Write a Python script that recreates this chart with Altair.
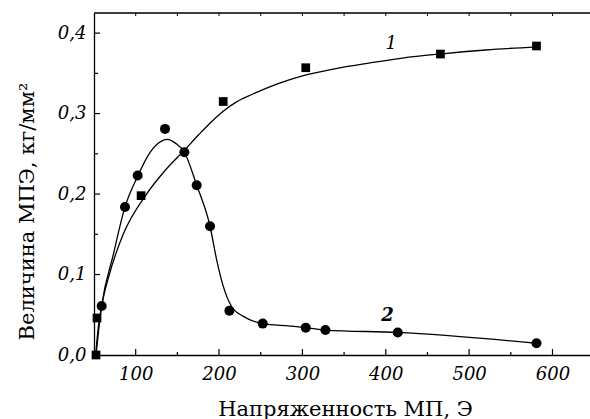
import altair as alt
import pandas as pd

# Series 1 (squares) measured points
sq_x = [52.4, 53.6, 106.5, 205, 304, 465.6, 580.8]
sq_y = [0.0, 0.046, 0.198, 0.315, 0.357, 0.374, 0.384]

# Series 2 (circles) measured points
ci_x = [59.2, 87.2, 102.4, 135.2, 158.4, 173.2, 189.2, 212.4, 252.4, 304, 327.6, 414.4, 580.8]
ci_y = [0.061, 0.184, 0.223, 0.281, 0.252, 0.211, 0.160, 0.055, 0.039, 0.034, 0.031, 0.028, 0.0146]

# Fitted curve 1
fit1_x = [52, 55.2, 59.2, 68.4, 85, 113, 135, 158, 175, 190, 205, 220, 240, 270, 300, 340, 381, 420, 465, 520, 581]
fit1_y = [0.0, 0.035, 0.061, 0.1, 0.15, 0.2, 0.229, 0.254, 0.273, 0.289, 0.303, 0.314, 0.324, 0.337, 0.347,
          0.356, 0.363, 0.369, 0.374, 0.379, 0.383]

# Fitted curve 2
fit2_x = [52.4, 55.5, 59.2, 73, 87.2, 102.4, 115, 127, 138, 148, 158.4, 173.2, 189.2, 197.2,
          205.2, 215.2, 229.2, 252.4, 285, 304, 327.6, 414.4, 580.8]
fit2_y = [0.0, 0.03, 0.061, 0.124, 0.184, 0.222, 0.248, 0.263, 0.268, 0.263, 0.252, 0.211, 0.160,
          0.118, 0.085, 0.060, 0.048, 0.039, 0.036, 0.034, 0.031, 0.028, 0.0146]

# Axis ticks / labels
x_major = [100, 200, 300, 400, 500, 600]
x_minor = [150, 250, 350, 450, 550]
x_top = [100, 150, 200, 250, 300, 350, 400, 450, 500, 550, 600]
y_major = [0.0, 0.1, 0.2, 0.3, 0.4]
y_minor = [0.05, 0.15, 0.25, 0.35]

curve_labels = ["1", "2"]
curve_label_x = [406.4, 402]
curve_label_y = [0.387, 0.0485]

W, H = 496, 342
XD = [50, 645]
YD = [0, 0.425]
FONT = "DejaVu Serif"

xs = alt.Scale(domain=XD, nice=False, zero=False)
ys = alt.Scale(domain=YD, nice=False, zero=False)

df_sq = pd.DataFrame({"x": sq_x, "y": sq_y})
df_ci = pd.DataFrame({"x": ci_x, "y": ci_y})
df_f1 = pd.DataFrame({"x": fit1_x, "y": fit1_y, "order": range(len(fit1_x))})
df_f2 = pd.DataFrame({"x": fit2_x, "y": fit2_y, "order": range(len(fit2_x))})

x_axis = alt.Axis(
    values=x_major, format="d", ticks=False, grid=False,
    domainColor="black", domainWidth=1.3,
    labelFont=FONT, labelFontSize=18, labelFontStyle="italic", labelColor="black",
    labelPadding=10, labelFlush=False,
    title="Напряженность МП, Э", titleFont=FONT, titleFontSize=21, titleFontWeight="normal",
    titleColor="black", titleX=251, titleY=60, titleBaseline="alphabetic", titleAlign="center",
)
y_axis = alt.Axis(
    values=y_major, ticks=False, grid=False,
    labelExpr="replace(format(datum.value, '.1f'), '.', ',')",
    domainColor="black", domainWidth=1.3,
    labelFont=FONT, labelFontSize=18, labelFontStyle="italic", labelColor="black",
    labelPadding=8, labelFlush=False,
    title="Величина МПЭ, кг/мм²", titleFont=FONT, titleFontSize=21, titleFontWeight="normal",
    titleColor="black", titleX=-61, titleY=198, titleBaseline="alphabetic", titleAlign="center",
    titleAngle=-90,
)

line1 = alt.Chart(df_f1).mark_line(color="black", strokeWidth=1.3, interpolate="monotone").encode(
    x=alt.X("x:Q", scale=xs, axis=x_axis),
    y=alt.Y("y:Q", scale=ys, axis=y_axis),
    order="order:O",
)
line2 = alt.Chart(df_f2).mark_line(color="black", strokeWidth=1.3, interpolate="monotone").encode(
    x=alt.X("x:Q", scale=xs), y=alt.Y("y:Q", scale=ys), order="order:O"
)
pts_sq = alt.Chart(df_sq).mark_point(shape="square", filled=True, color="black", size=76, opacity=1).encode(
    x=alt.X("x:Q", scale=xs), y=alt.Y("y:Q", scale=ys)
)
pts_ci = alt.Chart(df_ci).mark_point(shape="circle", filled=True, color="black", size=100, opacity=1).encode(
    x=alt.X("x:Q", scale=xs), y=alt.Y("y:Q", scale=ys)
)

df_lab = pd.DataFrame({"t": curve_labels, "x": curve_label_x, "y": curve_label_y})
lab1 = alt.Chart(df_lab.iloc[[0]]).mark_text(font=FONT, fontSize=18, fontStyle="italic",
                                              color="black", baseline="middle", align="center").encode(
    x=alt.X("x:Q", scale=xs), y=alt.Y("y:Q", scale=ys), text="t:N")
lab2 = alt.Chart(df_lab.iloc[[1]]).mark_text(font=FONT, fontSize=18, fontStyle="italic", fontWeight="bold",
                                              color="black", baseline="middle", align="center").encode(
    x=alt.X("x:Q", scale=xs), y=alt.Y("y:Q", scale=ys), text="t:N")

# inside ticks
bx_major = alt.Chart(pd.DataFrame({"x": x_major})).mark_rule(color="black", strokeWidth=1.2).encode(
    x=alt.X("x:Q", scale=xs), y=alt.value(H), y2=alt.value(H - 6))
bx_minor = alt.Chart(pd.DataFrame({"x": x_minor})).mark_rule(color="black", strokeWidth=1.2).encode(
    x=alt.X("x:Q", scale=xs), y=alt.value(H), y2=alt.value(H - 3))
tx = alt.Chart(pd.DataFrame({"x": x_top})).mark_rule(color="black", strokeWidth=1.0).encode(
    x=alt.X("x:Q", scale=xs), y=alt.value(0), y2=alt.value(3))
ly_major = alt.Chart(pd.DataFrame({"y": y_major})).mark_rule(color="black", strokeWidth=1.2).encode(
    y=alt.Y("y:Q", scale=ys), x=alt.value(0), x2=alt.value(6))
ly_minor = alt.Chart(pd.DataFrame({"y": y_minor})).mark_rule(color="black", strokeWidth=1.2).encode(
    y=alt.Y("y:Q", scale=ys), x=alt.value(0), x2=alt.value(4))
top_line = alt.Chart(pd.DataFrame({"a": [0]})).mark_rule(color="black", strokeWidth=1.3).encode(
    x=alt.value(0), x2=alt.value(W), y=alt.value(0))

chart = alt.layer(
    line1, line2, bx_major, bx_minor, tx, ly_major, ly_minor, top_line,
    pts_sq, pts_ci, lab1, lab2
).properties(
    width=W, height=H,
    autosize=alt.AutoSizeParams(type="none"),
    padding={"left": 94, "top": 13, "right": 0, "bottom": 64},
).configure_view(stroke=None).configure(background="white")

chart.save("out.html", embed_options={"renderer": "svg", "actions": False})
